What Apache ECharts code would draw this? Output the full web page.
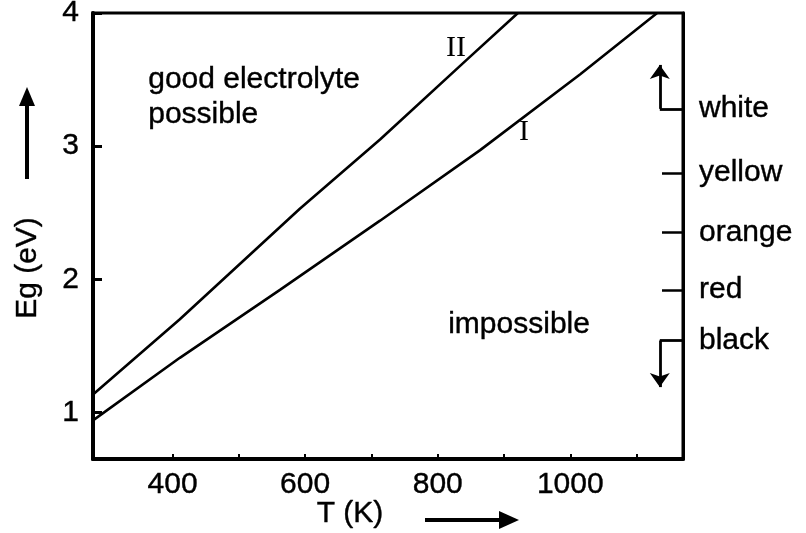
<!DOCTYPE html>
<html>
<head>
<meta charset="utf-8">
<script src="https://cdn.jsdelivr.net/npm/echarts@6/dist/echarts.min.js"></script>
<style>
  html, body { margin: 0; background: #fff; }
  #chart { width: 806px; height: 533px; }
</style>
</head>
<body>
<div id="chart"></div>
<script>
// curve I and curve II (T in K, Eg in eV)
var lineI_T = [280, 411, 562, 713, 864, 1015, 1131];
var lineI_Eg = [0.94, 1.41, 1.92, 2.44, 2.97, 3.54, 4.0];
var lineII_T = [280, 411, 592, 713, 844, 921];
var lineII_Eg = [1.135, 1.70, 2.53, 3.05, 3.65, 4.0];

// axis ticks / labels
var tTicks = [400, 500, 600, 700, 800, 900, 1000, 1100];
var tLabels = [400, 600, 800, 1000];
var egTicks = [1, 2, 3, 4];

// colour scale on the right side
var colourNames = ['white', 'yellow', 'orange', 'red', 'black'];
var colourEg = [3.28, 2.80, 2.35, 1.92, 1.54];
var colourTicks = [2.80, 2.35, 1.92];
var whiteArrow = [3.28, 3.61];   // from, to
var blackArrow = [1.54, 1.19];
var bracketT = [1135, 1170];     // bracket foot, right border

function pairs(xs, ys) {
  var out = [];
  for (var i = 0; i < xs.length; i++) out.push([xs[i], ys[i]]);
  return out;
}

function bracket(a) {
  return [
    [{ coord: [bracketT[1], a[0]], symbol: 'none' }, { coord: [bracketT[0], a[0]], symbol: 'none' }],
    [{ coord: [bracketT[0], a[0]], symbol: 'none' }, { coord: [bracketT[0], a[1]], symbol: 'arrow' }]
  ];
}

var myChart = echarts.init(document.getElementById('chart'));
var font = 'Liberation Sans, Arial, sans-serif';
var txt = { color: '#000', fontSize: 30, fontFamily: font, textBorderColor: '#000', textBorderWidth: 0.4 };

var option = {
  animation: false,
  backgroundColor: '#fff',
  grid: {
    left: 93, right: 123, top: 13, bottom: 74,
    outerBoundsMode: 'none',
    containLabel: false,
    show: true, borderColor: '#000', borderWidth: 3
  },
  xAxis: {
    type: 'value',
    min: 280, max: 1170,
    name: 'T (K)',
    nameLocation: 'middle',
    nameGap: 40,
    nameMoveOverlap: false,
    nameTextStyle: Object.assign({}, txt, { padding: [0, 76, 0, 0] }),
    axisLine: { lineStyle: { color: '#000', width: 4 } },
    axisTick: { inside: true, length: 5, lineStyle: { color: '#000', width: 2 }, customValues: tTicks },
    axisLabel: Object.assign({}, txt, {
      margin: 11, customValues: tLabels,
      formatter: function (v) { return String(v); }
    }),
    splitLine: { show: false }
  },
  yAxis: [{
    type: 'value',
    min: 0.65, max: 4,
    name: 'Eg (eV)',
    nameLocation: 'middle',
    nameGap: 50,
    nameMoveOverlap: false,
    nameTextStyle: Object.assign({}, txt, { padding: [0, 64, 0, 0] }),
    axisLine: { lineStyle: { color: '#000', width: 4 } },
    axisTick: { inside: true, length: 9, lineStyle: { color: '#000', width: 3 }, customValues: egTicks },
    axisLabel: Object.assign({}, txt, { margin: 14, customValues: egTicks }),
    splitLine: { show: false }
  }, {
    type: 'value',
    position: 'right',
    min: 0.65, max: 4,
    axisLine: { show: true, lineStyle: { color: '#000', width: 3 } },
    axisTick: { inside: true, length: 21, lineStyle: { color: '#000', width: 2.5 }, customValues: colourTicks },
    axisLabel: Object.assign({}, txt, {
      margin: 16,
      padding: [6, 0, 0, 0],
      customValues: colourEg,
      formatter: function (v) {
        for (var i = 0; i < colourEg.length; i++) {
          if (Math.abs(colourEg[i] - v) < 1e-6) return colourNames[i];
        }
        return '';
      }
    }),
    splitLine: { show: false }
  }],
  series: [{
    name: 'I',
    type: 'line',
    data: pairs(lineI_T, lineI_Eg),
    symbol: 'none',
    smooth: false,
    lineStyle: { color: '#000', width: 2.6 }
  }, {
    name: 'II',
    type: 'line',
    data: pairs(lineII_T, lineII_Eg),
    symbol: 'none',
    smooth: false,
    lineStyle: { color: '#000', width: 2.6 }
  }, {
    name: 'colour brackets',
    type: 'line',
    data: [],
    markLine: {
      silent: true,
      symbolSize: [15, 14],
      label: { show: false },
      lineStyle: { color: '#000', width: 2.8, type: 'solid' },
      data: bracket(whiteArrow).concat(bracket(blackArrow))
    }
  }],
  graphic: [
    // region notes
    { type: 'text', left: 148, top: 62, style: { text: 'good electrolyte\npossible', font: '30px ' + font, fill: '#000', stroke: '#000', lineWidth: 0.4, lineHeight: 35 } },
    { type: 'text', left: 448, top: 310, style: { text: 'impossible', font: '30px ' + font, fill: '#000', stroke: '#000', lineWidth: 0.4 } },
    { type: 'text', left: 446, top: 33, style: { text: 'II', font: '30px Liberation Serif, Times New Roman, serif', fill: '#000' } },
    { type: 'text', left: 519, top: 117, style: { text: 'I', font: '30px Liberation Serif, Times New Roman, serif', fill: '#000' } },
    // arrow next to Eg (eV)
    { type: 'line', shape: { x1: 27, y1: 179, x2: 27, y2: 100 }, style: { stroke: '#000', lineWidth: 4 } },
    { type: 'polygon', shape: { points: [[19, 106], [35, 106], [27, 87]] }, style: { fill: '#000' } },
    // arrow next to T (K)
    { type: 'line', shape: { x1: 425, y1: 520, x2: 505, y2: 520 }, style: { stroke: '#000', lineWidth: 4 } },
    { type: 'polygon', shape: { points: [[499, 511], [499, 529], [519, 520]] }, style: { fill: '#000' } }
  ]
};

myChart.setOption(option);
</script>
</body>
</html>
